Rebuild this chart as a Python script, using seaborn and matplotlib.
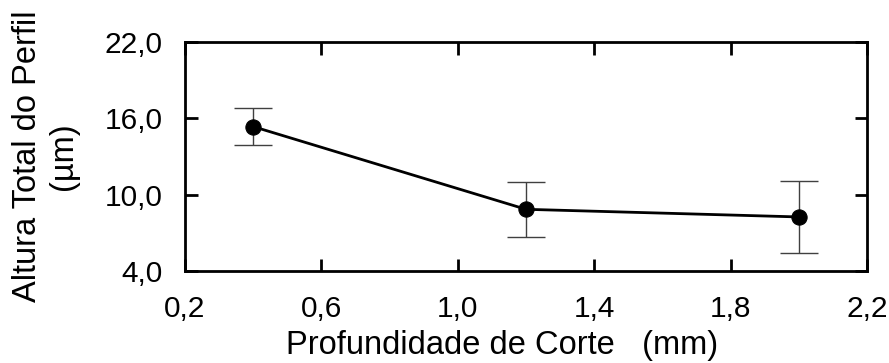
import matplotlib
matplotlib.use("Agg")
import matplotlib.pyplot as plt
import seaborn as sns
import pandas as pd

# Data
depth_mm = [0.4, 1.2, 2.0]
altura_um = [15.35, 8.85, 8.25]
erro_um = [1.45, 2.17, 2.80]

x_ticks = [0.2, 0.6, 1.0, 1.4, 1.8, 2.2]
x_tick_labels = ["0,2", "0,6", "1,0", "1,4", "1,8", "2,2"]
y_ticks = [4.0, 10.0, 16.0, 22.0]
y_tick_labels = ["4,0", "10,0", "16,0", "22,0"]

x_label = "Profundidade de Corte   (mm)"
y_label = "Altura Total do Perfil\n(µm)"

sns.set_style("ticks")
plt.rcParams["font.family"] = ["Liberation Sans", "DejaVu Sans"]
plt.rcParams["text.color"] = "black"
plt.rcParams["axes.labelcolor"] = "black"

df = pd.DataFrame({"x": depth_mm, "y": altura_um, "e": erro_um})

fig = plt.figure(figsize=(8.89, 3.63), dpi=100)
ax = fig.add_axes([0.2081, 0.2534, 0.9753 - 0.2081, 0.8843 - 0.2534])

ax.errorbar(df["x"], df["y"], yerr=df["e"], fmt="none", ecolor="#404040",
            elinewidth=1.0, capsize=14, capthick=1.0, zorder=2)
sns.lineplot(data=df, x="x", y="y", ax=ax, color="black", linewidth=2.0,
             marker="o", markersize=11, markeredgecolor="black",
             markerfacecolor="black", zorder=3)

ax.set_xlim(0.2, 2.2)
ax.set_ylim(4.0, 22.0)
ax.set_xticks(x_ticks)
ax.set_xticklabels(x_tick_labels)
ax.set_yticks(y_ticks)
ax.set_yticklabels(y_tick_labels)

ax.tick_params(axis="both", direction="in", length=9, width=2, labelsize=21.5,
               top=True, right=True, colors="black", labelcolor="black")
ax.tick_params(axis="x", pad=17)
ax.tick_params(axis="y", pad=16)
for s in ax.spines.values():
    s.set_linewidth(2)
    s.set_color("black")
    s.set_visible(True)

ax.set_xlabel(x_label, fontsize=23.5, color="black")
ax.set_ylabel(y_label, fontsize=23.5, linespacing=1.2, color="black")
ax.yaxis.label.set_va("center")
ax.yaxis.set_label_coords(-0.205, 0.5)
ax.xaxis.label.set_va("center")
ax.xaxis.set_label_coords(0.465, -0.325)

fig.savefig("out.png", dpi=100)
